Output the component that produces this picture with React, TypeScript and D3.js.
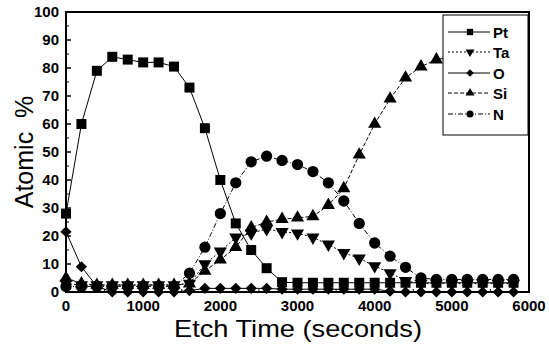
import React from "react";
import * as d3 from "d3";

// Etch time in seconds (one sample every 200 s)
const etchTime = [
  0, 200, 400, 600, 800, 1000, 1200, 1400, 1600, 1800, 2000, 2200, 2400, 2600,
  2800, 3000, 3200, 3400, 3600, 3800, 4000, 4200, 4400, 4600, 4800, 5000, 5200,
  5400, 5600, 5800,
];

const ptValues = [
  28, 60, 79, 84, 83, 82, 82, 80.5, 73, 58.5, 40, 24.5, 15, 8.5, 3.5, 3.3, 3.3,
  3.3, 3.3, 3.3, 3.3, 3.3, 3.3, 3.3, 3.3, 3.3, 3.3, 3.3, 3.3, 3.3,
];
const taValues = [
  3, 2.5, 2.5, 2.5, 2.5, 2.5, 2.5, 2.5, 3, 10, 14.5, 19.5, 21, 22.5, 21.5, 21,
  19.5, 17, 14, 12, 9.3, 6.8, 4, 3, 3, 3, 3, 3, 3, 3,
];
const oValues = [
  21.5, 9, 2, 0, 0, 0, 0, 0, 0.5, 1.3, 1.3, 1.3, 1.3, 1.3, 1, 1, 1, 1, 1, 1, 1,
  0.3, 0, 0, 0, 0, 0, 0, 0, 0,
];
const siValues = [
  5, 3, 2.5, 2.5, 2.5, 2.5, 2.5, 2.5, 3, 7.5, 11.5, 16, 23, 25, 26, 26.5, 27, 31,
  37, 49, 60, 69, 76.5, 80.5, 83, 84, 84.5, 85, 85, 85,
];
const nValues = [
  2, 2, 2, 2, 2, 2, 2, 2, 6.7, 16, 28, 39, 46.5, 48.5, 47, 45.5, 43, 39, 32.5,
  24.5, 17.5, 12.8, 8.8, 5, 4.5, 4.5, 4.5, 4.5, 4.5, 4.5,
];

const seriesNames = ["Pt", "Ta", "O", "Si", "N"];
const xTicks = [0, 1000, 2000, 3000, 4000, 5000, 6000];
const yTicks = [0, 10, 20, 30, 40, 50, 60, 70, 80, 90, 100];

const W = 549;
const H = 351;
const PLOT = { left: 66, right: 529, top: 12, bottom: 292 };
const FONT = "'Liberation Sans', Arial, Helvetica, sans-serif";

const x = d3.scaleLinear().domain([0, 6000]).range([PLOT.left, PLOT.right]);
const y = d3.scaleLinear().domain([0, 100]).range([PLOT.bottom, PLOT.top]);

const squareSym = d3.symbol().type(d3.symbolSquare);
const circleSym = d3.symbol().type(d3.symbolCircle);
const triSym = d3.symbol().type(d3.symbolTriangle);

type Marker = { path: (big: boolean) => string; rotate: number };

const markers: Record<string, Marker> = {
  Pt: { path: (b) => squareSym.size(b ? 100 : 40)()!, rotate: 0 },
  Ta: { path: (b) => triSym.size(b ? 75 : 34)()!, rotate: 180 },
  O: { path: (b) => squareSym.size(b ? 62 : 28)()!, rotate: 45 },
  Si: { path: (b) => triSym.size(b ? 75 : 34)()!, rotate: 0 },
  N: { path: (b) => circleSym.size(b ? 100 : 40)()!, rotate: 0 },
};

const dashes: Record<string, string> = {
  Pt: "none",
  Ta: "2,2",
  O: "none",
  Si: "4,2",
  N: "5,2,1,2",
};

const seriesData: Record<string, number[]> = {
  Pt: ptValues,
  Ta: taValues,
  O: oValues,
  Si: siValues,
  N: nValues,
};

const line = d3
  .line<number>()
  .x((_, i) => x(etchTime[i]))
  .y((d) => y(d));

export default function App() {
  const minorY = d3.range(5, 100, 10);
  const minorX = d3.range(500, 6000, 1000);
  const legendY = [32, 52, 73, 93, 114];

  return (
    <svg
      width={W}
      height={H}
      style={{ position: "absolute", left: 0, top: 0, background: "#fff" }}
    >
      <rect x={0} y={0} width={W} height={H} fill="#fff" />

      {/* series */}
      {seriesNames.map((name) => (
        <g key={name}>
          <path
            d={line(seriesData[name])!}
            fill="none"
            stroke="#000"
            strokeWidth={1}
            strokeDasharray={dashes[name]}
          />
          {seriesData[name].map((v, i) => (
            <path
              key={i}
              d={markers[name].path(true)}
              transform={`translate(${x(etchTime[i])},${y(v)}) rotate(${markers[name].rotate})`}
              fill="#000"
            />
          ))}
        </g>
      ))}

      {/* frame */}
      <rect
        x={PLOT.left}
        y={PLOT.top}
        width={PLOT.right - PLOT.left}
        height={PLOT.bottom - PLOT.top}
        fill="none"
        stroke="#000"
        strokeWidth={2}
      />

      {/* y ticks */}
      {yTicks.map((t) => (
        <g key={"y" + t}>
          <line x1={PLOT.left} x2={PLOT.left + 5} y1={y(t)} y2={y(t)} stroke="#000" strokeWidth={1.5} />
          <text
            x={59}
            y={y(t) + 5}
            textAnchor="end"
            fontFamily={FONT}
            fontWeight="bold"
            fontSize={15}
          >
            {t}
          </text>
        </g>
      ))}
      {minorY.map((t) => (
        <line key={"my" + t} x1={PLOT.left} x2={PLOT.left + 3} y1={y(t)} y2={y(t)} stroke="#000" strokeWidth={1} />
      ))}

      {/* x ticks */}
      {xTicks.map((t) => (
        <g key={"x" + t}>
          <line x1={x(t)} x2={x(t)} y1={PLOT.bottom} y2={PLOT.bottom - 5} stroke="#000" strokeWidth={1.5} />
          <text
            x={x(t)}
            y={311}
            textAnchor="middle"
            fontFamily={FONT}
            fontWeight="bold"
            fontSize={15}
          >
            {t}
          </text>
        </g>
      ))}
      {minorX.map((t) => (
        <line key={"mx" + t} x1={x(t)} x2={x(t)} y1={PLOT.bottom} y2={PLOT.bottom - 3} stroke="#000" strokeWidth={1} />
      ))}

      {/* axis titles */}
      <text
        x={298}
        y={337}
        textAnchor="middle"
        fontFamily={FONT}
        fontSize={24}
        textLength={248}
        lengthAdjust="spacingAndGlyphs"
      >
        Etch Time (seconds)
      </text>
      <text
        transform={`translate(33,152) rotate(-90)`}
        textAnchor="middle"
        fontFamily={FONT}
        fontSize={25}
        style={{ whiteSpace: "pre" }}
      >
        {"Atomic  %"}
      </text>

      {/* legend */}
      <rect x={443} y={15} width={85} height={120} fill="#fff" stroke="#000" strokeWidth={1} />
      {seriesNames.map((name, i) => (
        <g key={"lg" + name}>
          <line
            x1={448}
            x2={490}
            y1={legendY[i]}
            y2={legendY[i]}
            stroke="#000"
            strokeWidth={1}
            strokeDasharray={dashes[name]}
          />
          <path
            d={markers[name].path(false)}
            transform={`translate(470,${legendY[i]}) rotate(${markers[name].rotate})`}
            fill="#000"
          />
          <text x={493} y={legendY[i] + 5.5} fontFamily={FONT} fontWeight="bold" fontSize={15}>
            {name}
          </text>
        </g>
      ))}
    </svg>
  );
}
